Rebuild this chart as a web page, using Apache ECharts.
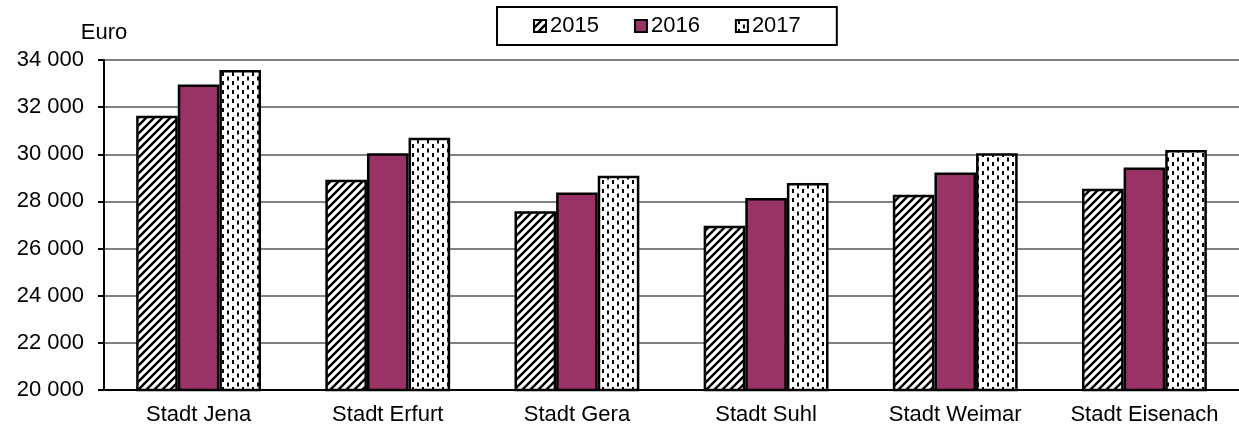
<!DOCTYPE html>
<html>
<head>
<meta charset="utf-8">
<script src="https://cdn.jsdelivr.net/npm/echarts@6/dist/echarts.min.js"></script>
<style>
	html, body { margin: 0; padding: 0; background: #fff; }
	#mychart { width: 1239px; height: 428px; }
</style>
</head>
<body>
<div id="mychart"></div>
<script>
	var cities = ['Stadt Jena', 'Stadt Erfurt', 'Stadt Gera', 'Stadt Suhl', 'Stadt Weimar', 'Stadt Eisenach']
	var years = ['2015', '2016', '2017']
	var values2015 = [31640, 28920, 27580, 26970, 28280, 28540]
	var values2016 = [32960, 30040, 28380, 28150, 29230, 29440]
	var values2017 = [33580, 30700, 29090, 28780, 30040, 30180]

	// diagonal hatch for 2015
	function hatch() {
		var c = document.createElement('canvas')
		c.width = 8
		c.height = 8
		var x = c.getContext('2d')
		x.fillStyle = '#fff'
		x.fillRect(0, 0, 8, 8)
		x.strokeStyle = '#000'
		x.lineWidth = 2.4
		x.beginPath()
		x.moveTo(-2, 10); x.lineTo(10, -2)
		x.moveTo(-2, 2); x.lineTo(2, -2)
		x.moveTo(6, 10); x.lineTo(10, 6)
		x.stroke()
		return c
	}

	// staggered vertical dashes for 2017
	function dashes() {
		var c = document.createElement('canvas')
		c.width = 10
		c.height = 9
		var x = c.getContext('2d')
		x.fillStyle = '#fff'
		x.fillRect(0, 0, 10, 9)
		x.fillStyle = '#000'
		x.fillRect(2, 0, 2, 4)
		x.fillRect(7, 4.5, 2, 4)
		return c
	}

	var font = "'Liberation Sans', Arial, sans-serif"
	var chart = echarts.init(document.getElementById('mychart'))

	function bar(name, data, color) {
		return {
			name: name,
			type: 'bar',
			data: data,
			barGap: '0%',
			barCategoryGap: '34%',
			itemStyle: {
				color: color,
				borderColor: '#000',
				borderWidth: 2.5
			}
		}
	}

	var option = {
		animation: false,
		backgroundColor: '#fff',
		textStyle: { fontFamily: font, color: '#000' },
		legend: {
			data: years,
			left: 497,
			top: 7,
			padding: [8, 36, 8, 36],
			itemGap: 35,
			itemWidth: 12,
			itemHeight: 12,
			icon: 'rect',
			borderColor: '#000',
			borderWidth: 2,
			textStyle: { fontFamily: font, fontSize: 22, color: '#000', padding: [0, 0, 0, -1] }
		},
		grid: {
			left: 104,
			top: 60,
			width: 1140,
			height: 330
		},
		xAxis: {
			type: 'category',
			data: cities,
			axisLine: { lineStyle: { color: '#000', width: 2 } },
			axisTick: { length: 7, lineStyle: { color: '#000', width: 2 } },
			axisLabel: { fontFamily: font, fontSize: 22, color: '#000', margin: 14, interval: 0 }
		},
		yAxis: {
			type: 'value',
			min: 20000,
			max: 34000,
			interval: 2000,
			name: 'Euro',
			nameLocation: 'end',
			nameGap: 16,
			nameTextStyle: { fontFamily: font, fontSize: 22, color: '#000', align: 'center' },
			axisLine: { show: true, lineStyle: { color: '#000', width: 2 } },
			axisTick: { show: true, length: 6, lineStyle: { color: '#000', width: 2 } },
			splitLine: { lineStyle: { color: '#808080', width: 2 } },
			axisLabel: {
				fontFamily: font,
				fontSize: 22,
				color: '#000',
				margin: 20,
				formatter: function (v) {
					return String(v).replace(/\B(?=(\d{3})+(?!\d))/g, ' ')
				}
			}
		},
		series: [
			bar('2015', values2015, { image: hatch(), repeat: 'repeat' }),
			bar('2016', values2016, '#993366'),
			bar('2017', values2017, { image: dashes(), repeat: 'repeat' })
		]
	}
	chart.setOption(option)
</script>
</body>
</html>
